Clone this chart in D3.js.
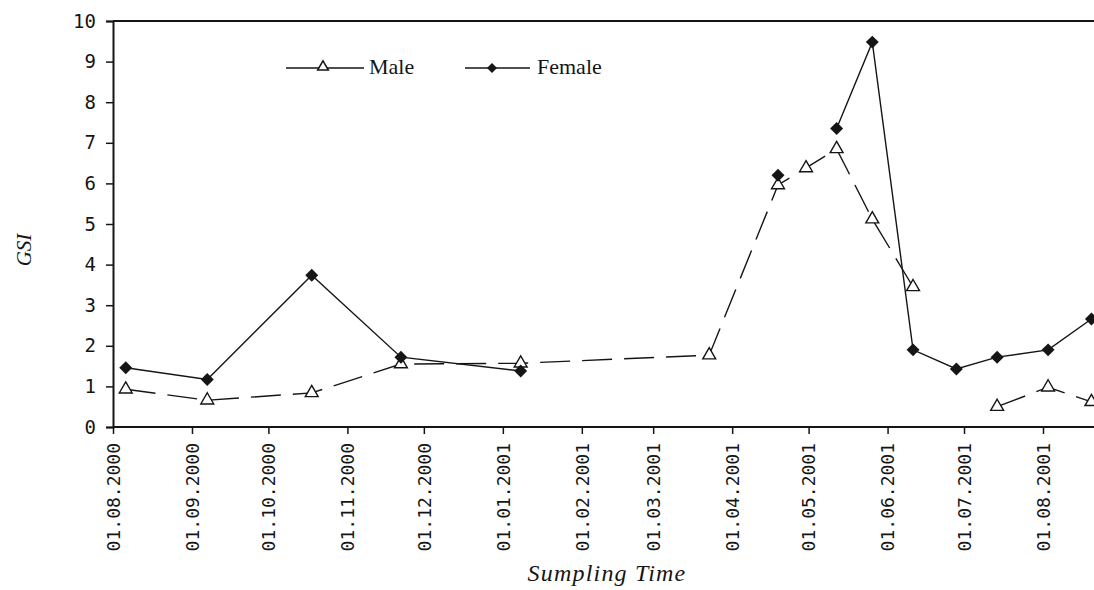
<!DOCTYPE html>
<html>
<head>
<meta charset="utf-8">
<script src="https://cdn.jsdelivr.net/npm/d3@7"></script>
<style>
  body { margin: 0; background: #fff; }
  svg { display: block; }
</style>
</head>
<body>
<div id="chart"></div>
<script>
// sampling dates and GSI values (null = no sample / gap in line)
const maleDates = ["2000-08-06", "2000-09-07", "2000-10-18", "2000-11-22", "2001-01-08", "2001-03-23",
    "2001-04-19", "2001-04-30", "2001-05-12", "2001-05-26", "2001-06-11", "2001-06-28",
    "2001-07-14", "2001-08-03", "2001-08-20"];
const maleGSI = [0.93, 0.66, 0.84, 1.55, 1.57, 1.77, 5.96, 6.38, 6.85, 5.12, 3.45, null, 0.5, 0.98, 0.62];

const femaleDates = ["2000-08-06", "2000-09-07", "2000-10-18", "2000-11-22", "2001-01-08", "2001-03-23",
    "2001-04-19", "2001-04-30", "2001-05-12", "2001-05-26", "2001-06-11", "2001-06-28",
    "2001-07-14", "2001-08-03", "2001-08-20"];
const femaleGSI = [1.46, 1.17, 3.74, 1.72, 1.38, null, 6.2, null, 7.35, 9.48, 1.9, 1.43, 1.72, 1.9, 2.66];

const monthTicks = ["01.08.2000", "01.09.2000", "01.10.2000", "01.11.2000", "01.12.2000", "01.01.2001",
    "01.02.2001", "01.03.2001", "01.04.2001", "01.05.2001", "01.06.2001", "01.07.2001", "01.08.2001"];
const yTicks = [0, 1, 2, 3, 4, 5, 6, 7, 8, 9, 10];

const W = 1094, H = 590;
const plotLeft = 113, plotTop = 21, plotBottom = 427;
const ink = "#151515";

const parseISO = d3.timeParse("%Y-%m-%d");
const parseTick = d3.timeParse("%d.%m.%Y");
const fmtTick = d3.timeFormat("%d.%m.%Y");

const male = maleDates.map((d, i) => ({ date: parseISO(d), v: maleGSI[i] }));
const female = femaleDates.map((d, i) => ({ date: parseISO(d), v: femaleGSI[i] }));
const tickDates = monthTicks.map(parseTick);

const svg = d3.select("#chart").append("svg")
    .attr("width", W)
    .attr("height", H);

const x = d3.scaleTime()
    .domain([tickDates[0], tickDates[tickDates.length - 1]])
    .range([plotLeft, 1043]);

const y = d3.scaleLinear()
    .domain([0, 10])
    .range([plotBottom, plotTop]);

// Y axis
const yAxis = svg.append("g")
    .attr("transform", `translate(${plotLeft},0)`)
    .call(d3.axisLeft(y).tickValues(yTicks).tickSize(7).tickPadding(10));
yAxis.select(".domain").attr("stroke", ink).attr("stroke-width", 2);
yAxis.selectAll(".tick line").attr("stroke", ink).attr("stroke-width", 1.5);
yAxis.selectAll("text")
    .attr("font-family", "DejaVu Sans Mono")
    .attr("font-size", 19)
    .attr("fill", ink);

// X axis
const xAxis = svg.append("g")
    .attr("transform", `translate(0,${plotBottom})`)
    .call(d3.axisBottom(x).tickValues(tickDates).tickFormat(fmtTick).tickSize(7));
xAxis.select(".domain").remove();
xAxis.selectAll(".tick line").attr("stroke", ink).attr("stroke-width", 1.5);
xAxis.selectAll("text")
    .attr("font-family", "DejaVu Sans Mono")
    .attr("font-size", 18)
    .attr("fill", ink)
    .attr("text-anchor", "end")
    .attr("transform", "rotate(-90)")
    .attr("x", -16)
    .attr("y", 0)
    .attr("dy", "0.35em");

// bottom and top frame lines run off the right edge
svg.append("line")
    .attr("x1", plotLeft).attr("x2", W)
    .attr("y1", plotBottom).attr("y2", plotBottom)
    .attr("stroke", ink).attr("stroke-width", 2);
svg.append("line")
    .attr("x1", plotLeft).attr("x2", W)
    .attr("y1", plotTop).attr("y2", plotTop)
    .attr("stroke", ink).attr("stroke-width", 2);

// axis titles
svg.append("text")
    .attr("transform", `translate(31,250) rotate(-90)`)
    .attr("text-anchor", "middle")
    .attr("font-family", "Liberation Serif")
    .attr("font-style", "italic")
    .attr("font-size", 21)
    .attr("fill", ink)
    .text("GSI");

svg.append("text")
    .attr("x", 607)
    .attr("y", 581)
    .attr("text-anchor", "middle")
    .attr("font-family", "Liberation Serif")
    .attr("font-style", "italic")
    .attr("font-size", 24)
    .attr("letter-spacing", 1.2)
    .attr("fill", ink)
    .text("Sumpling Time");

// lines
const line = d3.line()
    .defined(d => d.v !== null)
    .x(d => x(d.date))
    .y(d => y(d.v));

svg.append("path")
    .datum(male)
    .attr("fill", "none")
    .attr("stroke", ink)
    .attr("stroke-width", 1.4)
    .attr("stroke-dasharray", "30,12")
    .attr("d", line);

svg.append("path")
    .datum(female)
    .attr("fill", "none")
    .attr("stroke", ink)
    .attr("stroke-width", 1.4)
    .attr("d", line);

const triangle = d3.symbol(d3.symbolTriangle, 72);
const diamond = d3.symbol(d3.symbolSquare, 84);

svg.append("g").selectAll("path")
    .data(male.filter(d => d.v !== null))
    .join("path")
    .attr("d", triangle)
    .attr("transform", d => `translate(${x(d.date)},${y(d.v)})`)
    .attr("fill", "#fff")
    .attr("stroke", ink)
    .attr("stroke-width", 1.4);

svg.append("g").selectAll("path")
    .data(female.filter(d => d.v !== null))
    .join("path")
    .attr("d", diamond)
    .attr("transform", d => `translate(${x(d.date)},${y(d.v)}) rotate(45)`)
    .attr("fill", ink);

// legend
const legendTri = d3.symbol(d3.symbolTriangle, 50);
const legendDia = d3.symbol(d3.symbolSquare, 50);
const legend = svg.append("g");
legend.append("line")
    .attr("x1", 286).attr("x2", 364).attr("y1", 68).attr("y2", 68)
    .attr("stroke", ink).attr("stroke-width", 1.5);
legend.append("path")
    .attr("d", legendTri)
    .attr("transform", "translate(323,67)")
    .attr("fill", "#fff").attr("stroke", ink).attr("stroke-width", 1.5);
legend.append("text")
    .attr("x", 369).attr("y", 74)
    .attr("font-family", "Liberation Serif")
    .attr("font-size", 22)
    .attr("fill", ink)
    .text("Male");

legend.append("line")
    .attr("x1", 465).attr("x2", 530).attr("y1", 68).attr("y2", 68)
    .attr("stroke", ink).attr("stroke-width", 1.5);
legend.append("path")
    .attr("d", legendDia)
    .attr("transform", "translate(492,68) rotate(45)")
    .attr("fill", ink);
legend.append("text")
    .attr("x", 537).attr("y", 74)
    .attr("font-family", "Liberation Serif")
    .attr("font-size", 22)
    .attr("fill", ink)
    .text("Female");
</script>
</body>
</html>
